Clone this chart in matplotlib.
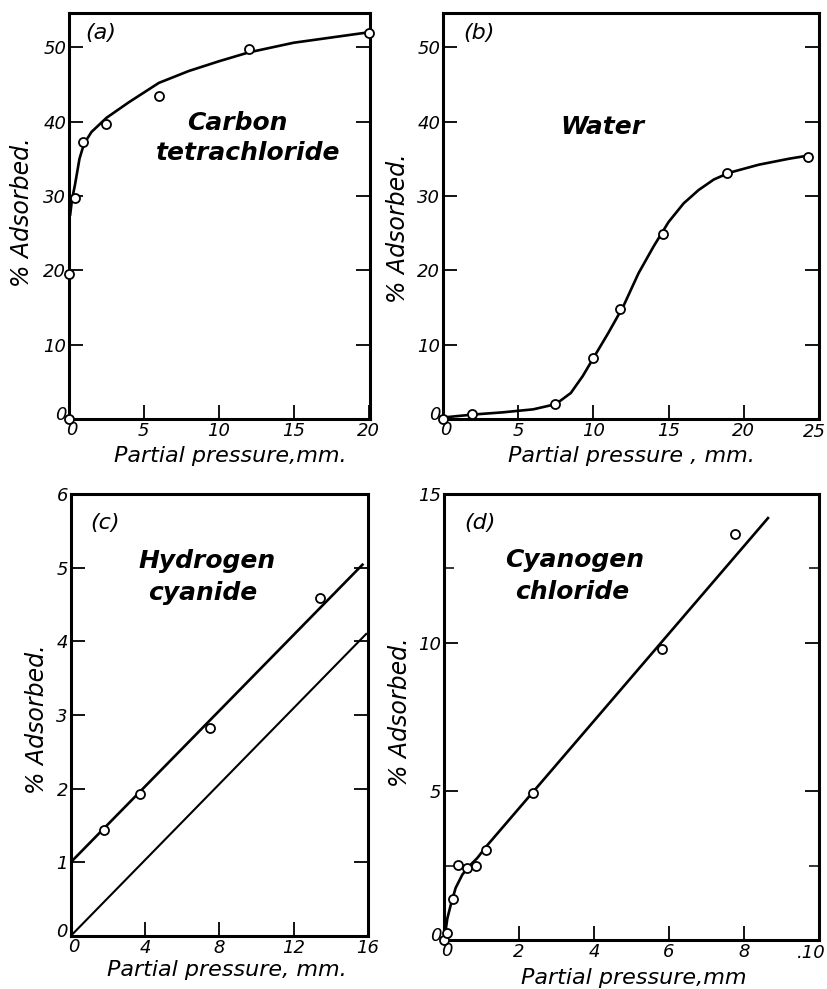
import numpy as np
import matplotlib
matplotlib.use("Agg")
import matplotlib.pyplot as plt

plt.rcParams['font.family'] = ['DejaVu Sans']
plt.rcParams['font.style'] = 'italic'

# ---- (a) carbon tetrachloride ----
a_pts_x = [0, 0, 0.4, 0.92, 2.5, 6, 12, 20]
a_pts_y = [0, 19.5, 29.7, 37.2, 39.7, 43.5, 49.7, 51.9]
a_curve_x = [0.08, 0.2, 0.4, 0.7, 1.0, 1.5, 2.5, 4, 6, 8, 10, 12, 15, 17.5, 20]
a_curve_y = [27.5, 29.5, 31.5, 35.0, 37.0, 38.6, 40.5, 42.6, 45.2, 46.8, 48.1, 49.3, 50.6, 51.3, 52.0]
a_xticks = [0, 5, 10, 15, 20]
a_yticks = [0, 10, 20, 30, 40, 50]

# ---- (b) water ----
b_pts_x = [0, 1.93, 7.44, 9.96, 11.8, 14.6, 18.9, 24.3]
b_pts_y = [0, 0.67, 1.97, 8.27, 14.8, 24.9, 33.05, 35.3]
b_curve_x = [0, 2, 4, 6, 7.5, 8.5, 9.3, 10, 11, 12, 13, 14, 15, 16, 17, 18, 19, 21, 23, 24.5]
b_curve_y = [0.2, 0.6, 0.9, 1.3, 2.0, 3.5, 5.8, 8.2, 11.6, 15.2, 19.6, 23.2, 26.5, 29.0, 30.8, 32.2, 33.1, 34.2, 35.0, 35.5]
b_xticks = [0, 5, 10, 15, 20, 25]
b_yticks = [0, 10, 20, 30, 40, 50]

# ---- (c) hydrogen cyanide ----
c_pts_x = [1.79, 3.72, 7.48, 13.43]
c_pts_y = [1.44, 1.93, 2.83, 4.59]
c_upper_x = [0, 15.7]
c_upper_y = [1.0, 5.04]
c_lower_x = [0, 15.9]
c_lower_y = [0, 4.1]
c_xticks = [0, 4, 8, 12, 16]
c_yticks = [0, 1, 2, 3, 4, 5, 6]

# ---- (d) cyanogen chloride ----
d_pts_x = [0, 0.09, 0.24, 0.37, 0.6, 0.84, 1.13, 2.37, 5.8, 7.76]
d_pts_y = [0, 0.23, 1.38, 2.53, 2.42, 2.48, 3.02, 4.93, 9.78, 13.65]
d_curve_x = [0.02, 0.09, 0.18, 0.31, 0.49, 0.67, 0.89, 1.13, 8.64]
d_curve_y = [0.11, 0.73, 1.18, 1.75, 2.2, 2.48, 2.76, 3.15, 14.19]
d_xticks = [0, 2, 4, 6, 8, 10]
d_xticklabels = ['0', '2', '4', '6', '8', '.10']
d_yticks = [0, 5, 10, 15]

W, H = 827, 989
fig = plt.figure(figsize=(W / 100, H / 100), dpi=100)


def box(l, t, r, b):
    # pixel box -> figure fraction
    return [l / W, 1 - b / H, (r - l) / W, (b - t) / H]


def style(ax):
    for s in ax.spines.values():
        s.set_linewidth(2.2)
    ax.tick_params(direction='in', length=10, width=1.3, right=True, top=False,
                   labelsize=13, pad=2)
    ax.tick_params(which='minor', direction='in', length=7, width=1.1, right=True, top=False)


def ticks(ax, xt, yt, xlabels=None, edge=False):
    if xlabels is None:
        xlabels = [str(v) for v in xt]
    ax.set_xticks(xt)
    ax.set_yticks(yt)
    xl = [''] + xlabels[1:]
    if edge:
        xl[-1] = ''
    ax.set_xticklabels(xl)
    ax.set_yticklabels([''] + [str(v) for v in yt[1:]])
    # the two zeros at the corner, pulled apart a little
    ax.annotate('0', xy=(xt[0], yt[0]), xycoords='data', xytext=(2, -1.5),
                textcoords='offset points', ha='center', va='top', fontsize=13,
                annotation_clip=False)
    ax.annotate('0', xy=(xt[0], yt[0]), xycoords='data', xytext=(-2, 3),
                textcoords='offset points', ha='right', va='center', fontsize=13,
                annotation_clip=False)
    if edge:
        # last label sits on the figure edge, keep it inside
        ax.annotate(xlabels[-1], xy=(xt[-1], yt[0]), xycoords='data',
                    xytext=(5, -3), textcoords='offset points',
                    ha='right', va='top', fontsize=13, annotation_clip=False)


def ylab(ax, x, y):
    ax.text(x, y, '% Adsorbed.', transform=ax.transAxes, rotation=90,
            ha='center', va='center', fontsize=17)


def xlab(ax, x, y, s):
    ax.text(x, y, s, transform=ax.transAxes, ha='center', va='center', fontsize=16)


mk = dict(marker='o', ms=6.5, mfc='white', mec='black', mew=1.3, ls='none',
          clip_on=False, zorder=3)

# (a)
ax = fig.add_axes(box(69, 13, 370, 419))
style(ax)
ax.plot(a_curve_x, a_curve_y, color='black', lw=1.9)
ax.plot(a_pts_x, a_pts_y, **mk)
ax.set_xlim(0, 20.1)
ax.set_ylim(0, 54.6)
ticks(ax, a_xticks, a_yticks)
ax.text(0.055, 0.95, '(a)', transform=ax.transAxes, fontsize=16, va='center')
ax.text(0.56, 0.73, 'Carbon', transform=ax.transAxes, fontsize=18,
        fontweight='bold', ha='center', va='center')
ax.text(0.595, 0.655, 'tetrachloride', transform=ax.transAxes, fontsize=18,
        fontweight='bold', ha='center', va='center')
ylab(ax, -0.156, 0.51)
xlab(ax, 0.535, -0.09, 'Partial pressure,mm.')

# (b)
ax = fig.add_axes(box(443, 13, 819, 419))
style(ax)
ax.plot(b_curve_x, b_curve_y, color='black', lw=1.9)
ax.plot(b_pts_x, b_pts_y, **mk)
ax.set_xlim(0, 25)
ax.set_ylim(0, 54.6)
ticks(ax, b_xticks, b_yticks, edge=True)
ax.text(0.055, 0.95, '(b)', transform=ax.transAxes, fontsize=16, va='center')
ax.text(0.423, 0.72, 'Water', transform=ax.transAxes, fontsize=18,
        fontweight='bold', ha='center', va='center')
ylab(ax, -0.12, 0.47)
xlab(ax, 0.5, -0.09, 'Partial pressure , mm.')

# (c)
ax = fig.add_axes(box(70.7, 494, 368, 936))
style(ax)
ax.plot(c_upper_x, c_upper_y, color='black', lw=1.9)
ax.plot(c_lower_x, c_lower_y, color='black', lw=1.5)
ax.plot(c_pts_x, c_pts_y, **mk)
ax.set_xlim(0, 16)
ax.set_ylim(0, 6)
ticks(ax, c_xticks, c_yticks)
ax.text(0.065, 0.935, '(c)', transform=ax.transAxes, fontsize=16, va='center')
ax.text(0.458, 0.848, 'Hydrogen', transform=ax.transAxes, fontsize=18,
        fontweight='bold', ha='center', va='center')
ax.text(0.443, 0.776, 'cyanide', transform=ax.transAxes, fontsize=18,
        fontweight='bold', ha='center', va='center')
ylab(ax, -0.113, 0.49)
xlab(ax, 0.525, -0.078, 'Partial pressure, mm.')

# (d)
ax = fig.add_axes(box(444, 494, 819, 940))
style(ax)
ax.plot(d_curve_x, d_curve_y, color='black', lw=1.9)
ax.plot(d_pts_x, d_pts_y, **mk)
ax.set_xlim(0, 10)
ax.set_ylim(0, 15)
ticks(ax, d_xticks, d_yticks, xlabels=d_xticklabels, edge=True)
ax.set_yticks([2.5, 12.5], minor=True)
ax.text(0.055, 0.935, '(d)', transform=ax.transAxes, fontsize=16, va='center')
ax.text(0.347, 0.852, 'Cyanogen', transform=ax.transAxes, fontsize=18,
        fontweight='bold', ha='center', va='center')
ax.text(0.341, 0.78, 'chloride', transform=ax.transAxes, fontsize=18,
        fontweight='bold', ha='center', va='center')
ylab(ax, -0.117, 0.51)
xlab(ax, 0.505, -0.085, 'Partial pressure,mm')

fig.savefig('out.png', dpi=100)
